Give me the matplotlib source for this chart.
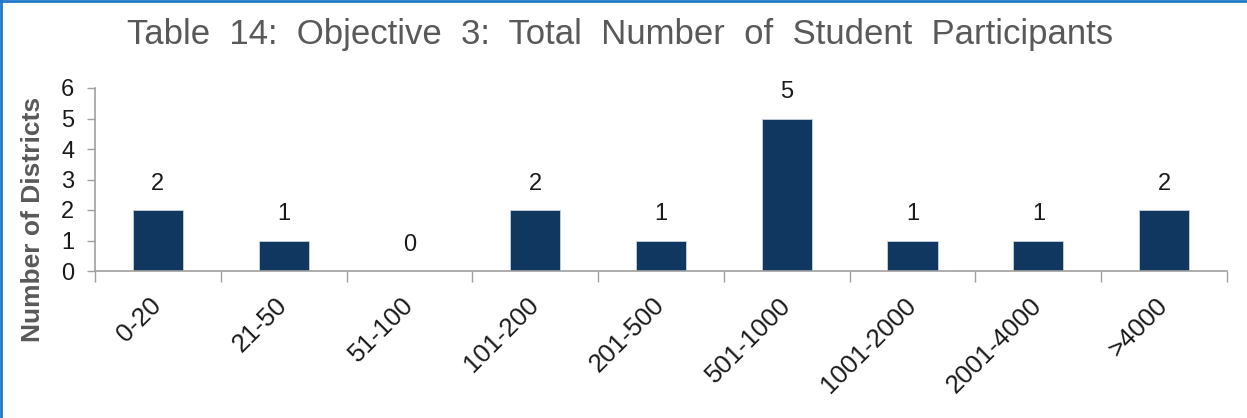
import numpy as np
import matplotlib
matplotlib.use('Agg')
import matplotlib.pyplot as plt
from matplotlib.lines import Line2D

# Chart data
categories = ['0-20', '21-50', '51-100', '101-200', '201-500',
              '501-1000', '1001-2000', '2001-4000', '>4000']
districts = [2, 1, 0, 2, 1, 5, 1, 1, 2]

plt.rcParams['font.family'] = ['Liberation Sans', 'DejaVu Sans']

fig = plt.figure(figsize=(12.47, 4.18), dpi=100)
ax = fig.add_axes([95 / 1247, 1 - 271 / 418, 1132 / 1247, 183 / 418])

index = np.arange(len(categories))
bars = ax.bar(index, districts, 0.4, color='#10375f', edgecolor='#c8d2de', linewidth=0.6)

# Value labels above each bar
for x, v in zip(index, districts):
    ax.annotate(str(v), (x, v), xytext=(0, 11), textcoords='offset points',
                ha='center', va='bottom', fontsize=17, color='#1a1a1a')

ax.set_xlim(-0.5, len(categories) - 0.5)
ax.set_ylim(0, 6)
ax.set_yticks(range(0, 7))
ax.tick_params(axis='y', labelsize=17, length=6, width=1, color='#a0a0a0',
               labelcolor='#1a1a1a', pad=9)

# Major ticks at the category boundaries, labels at the centres
ax.set_xticks(np.arange(-0.5, len(categories), 1.0))
ax.set_xticklabels([])
ax.tick_params(axis='x', which='major', length=8, width=1, color='#a0a0a0')
ax.set_xticks(index, minor=True)
ax.set_xticklabels(categories, minor=True, rotation=45, ha='right',
                   va='center', rotation_mode='anchor', fontsize=18.5, color='#1a1a1a')
ax.tick_params(axis='x', which='minor', length=0, pad=22)

for side in ['top', 'right']:
    ax.spines[side].set_visible(False)
for side in ['left', 'bottom']:
    ax.spines[side].set_color('#a0a0a0')
    ax.spines[side].set_linewidth(1.2)

ax.set_ylabel('Number of Districts', fontsize=19, fontweight='bold',
              color='#595959')
ax.yaxis.set_label_coords(-0.044, 0.28)

fig.suptitle('Table  14:  Objective  3:  Total  Number  of  Student  Participants',
             x=0.4976, y=0.957, fontsize=25, color='#595959')

# Blue frame on top and left edges
fig.add_artist(Line2D([0.001, 0.001], [0, 1], transform=fig.transFigure,
                      color='#1f78c8', linewidth=2))
fig.add_artist(Line2D([0, 1], [0.998, 0.998], transform=fig.transFigure,
                      color='#1f78c8', linewidth=2))

fig.savefig('out.png', dpi=100)
